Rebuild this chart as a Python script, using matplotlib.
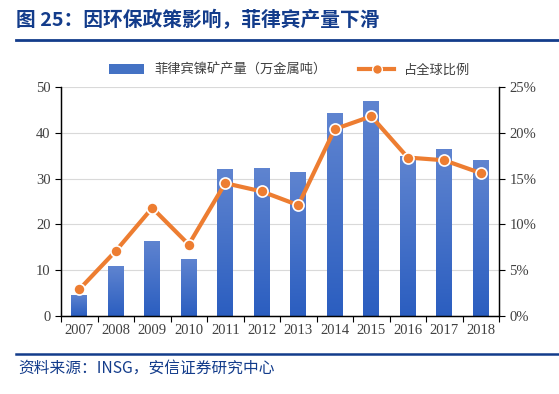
import matplotlib
matplotlib.use("Agg")
import matplotlib.pyplot as plt
import numpy as np
from matplotlib.lines import Line2D
from matplotlib.patches import Patch
from matplotlib.colors import LinearSegmentedColormap
from matplotlib.ticker import FuncFormatter, MultipleLocator

plt.rcParams['font.family'] = ['Noto Sans CJK SC', 'DejaVu Sans']

years = ["2007", "2008", "2009", "2010", "2011", "2012",
         "2013", "2014", "2015", "2016", "2017", "2018"]
output = [4.6, 10.9, 16.4, 12.5, 32.0, 32.3, 31.5, 44.3, 46.9, 34.9, 36.5, 34.0]
share = [2.9, 7.1, 11.8, 7.8, 14.5, 13.6, 12.1, 20.4, 21.8, 17.3, 17.0, 15.6]

bar_label = "菲律宾镍矿产量（万金属吨）"
line_label = "占全球比例"
title = "图 25：因环保政策影响，菲律宾产量下滑"
source = "资料来源：INSG，安信证券研究中心"

navy = "#133C8B"
orange = "#ED7D31"

fig = plt.figure(figsize=(5.59, 3.94), dpi=100)
ax = fig.add_axes([61 / 559, 1 - 316 / 394, 438 / 559, 229 / 394])
ax2 = ax.twinx()

x = np.arange(len(years))
bars = ax.bar(x, output, width=0.43, color="#4472C4", zorder=2)

# gradient fill for each bar
cmap = LinearSegmentedColormap.from_list("bg", ["#2B5EC0", "#5F84D0"])
grad = np.linspace(0, 1, 100).reshape(-1, 1)
for b in bars:
    bx, by = b.get_x(), b.get_y()
    w, h = b.get_width(), b.get_height()
    im = ax.imshow(grad, cmap=cmap, aspect="auto", origin="lower",
                   extent=[bx, bx + w, by, by + h], zorder=2)
    im.set_clip_path(b)
    b.set_facecolor("none")

ax.set_xlim(-0.5, len(years) - 0.5)
ax.set_ylim(0, 50)
ax.yaxis.set_major_locator(MultipleLocator(10))
ax.grid(axis="y", color="#D9D9D9", linewidth=0.8, zorder=0)
ax.set_axisbelow(True)
ax.set_xticks(x)
ax.set_xticklabels(years)
ax.set_xticks(np.arange(-0.5, len(years), 1), minor=True)
ax.tick_params(axis="x", which="major", length=0, pad=6)
ax.tick_params(axis="x", which="minor", length=4, direction="out", width=0.8)
ax.tick_params(axis="y", length=4, width=0.8)

ax2.plot(x, share, color=orange, linewidth=3, marker="o", markersize=8,
         markerfacecolor=orange, markeredgecolor="white", markeredgewidth=1.2,
         zorder=3)
ax2.set_ylim(0, 25)
ax2.yaxis.set_major_locator(MultipleLocator(5))
ax2.yaxis.set_major_formatter(FuncFormatter(lambda v, p: f"{v:.0f}%"))
ax2.tick_params(axis="y", length=4, width=0.8)

for a in (ax, ax2):
    a.spines["top"].set_visible(False)
    for s in ("left", "right", "bottom"):
        a.spines[s].set_linewidth(0.9)
    for lab in a.get_yticklabels() + a.get_xticklabels():
        lab.set_fontfamily("Liberation Serif")
        lab.set_fontsize(10.5)
        lab.set_color("#404040")

handles = [Patch(facecolor="#4472C4", label=bar_label),
           Line2D([0], [0], color=orange, linewidth=3, marker="o", markersize=7,
                  markerfacecolor=orange, markeredgecolor="white",
                  label=line_label)]
fig.legend(handles=handles, loc="center", bbox_to_anchor=(290 / 559, 1 - 70 / 394),
           ncol=2, frameon=False, fontsize=9.5, handlelength=2.6,
           columnspacing=2.5, labelcolor="#404040")

fig.text(16 / 559, 1 - 20 / 394, title, fontsize=14.2, fontweight="bold",
         color=navy, va="center", ha="left")
fig.add_artist(Line2D([16 / 559, 1], [1 - 40 / 394, 1 - 40 / 394],
                      color=navy, linewidth=2))
fig.add_artist(Line2D([16 / 559, 1], [1 - 354 / 394, 1 - 354 / 394],
                      color=navy, linewidth=1.8))
fig.text(18 / 559, 1 - 368 / 394, source, fontsize=11.3, style="italic",
         color=navy, va="center", ha="left")

fig.savefig("out.png", dpi=100)
